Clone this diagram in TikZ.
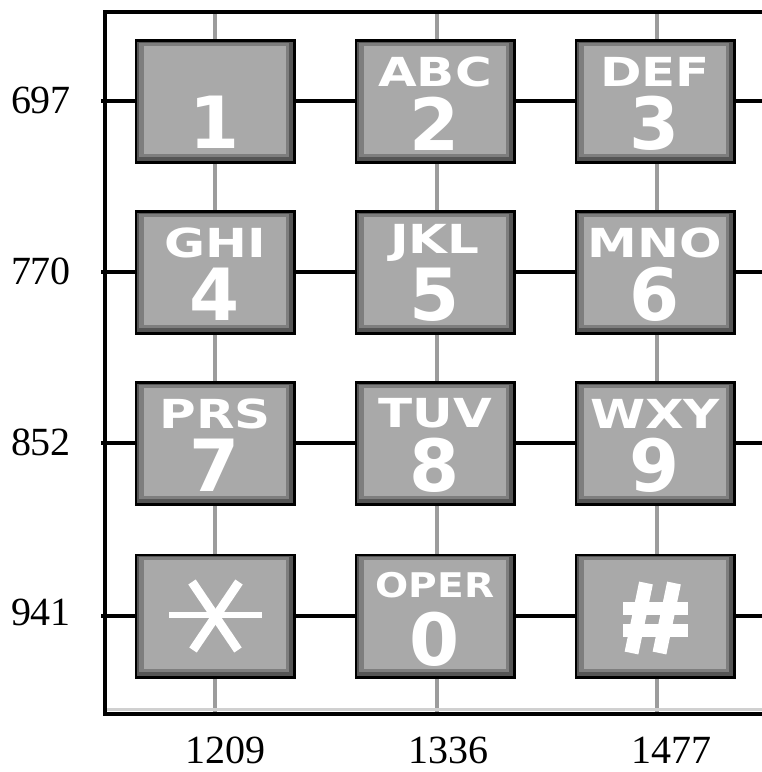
\documentclass[tikz,border=0pt]{standalone}
\usepackage{fontspec}
\setmainfont{Liberation Serif}
\newfontfamily\keyfont{DejaVu Sans}
\usetikzlibrary{calc}
\definecolor{keydark}{HTML}{555555}
\definecolor{keymid}{HTML}{7E7E7E}
\definecolor{keyface}{HTML}{A9A9A9}
\definecolor{colgray}{HTML}{9C9C9C}
\definecolor{shadowgray}{HTML}{D0D0D0}
\tikzset{
  keybox/.style={rectangle, fill=black, minimum width=161pt, minimum height=125pt, inner sep=0pt},
  keylet/.style={text=white, font=\keyfont\bfseries\fontsize{40}{40}\selectfont, inner sep=0pt},
  keysmall/.style={text=white, font=\keyfont\bfseries\fontsize{34}{34}\selectfont, inner sep=0pt},
  keydig/.style={text=white, font=\keyfont\bfseries\fontsize{72}{72}\selectfont, inner sep=0pt},
  freq/.style={font=\fontsize{40}{40}\selectfont, inner sep=0pt},
  rowline/.style={line width=3.5pt, black},
  colline/.style={line width=3.5pt, colgray},
  frameline/.style={line width=4pt, black, line join=miter},
  shadowline/.style={line width=3pt, shadowgray},
  glyphline/.style={white, line width=#1},
}
\newcommand\keybase[3]{%
  \node[keybox] (#1) at (#2,#3) {};
  \fill[keydark] ($(#1.south west)+(3pt,3pt)$) rectangle ($(#1.north east)+(-3pt,-3pt)$);
  \fill[keymid] ($(#1.south west)+(5pt,7pt)$) rectangle ($(#1.north east)+(-7pt,-4pt)$);
  \fill[keyface] ($(#1.south west)+(10pt,10pt)$) rectangle ($(#1.north east)+(-10pt,-7pt)$);
}
\newcommand\keyfull[5]{%
  \keybase{#1}{#2}{#3}
  \node[keylet] (#1-l) at ($(#1)+(0pt,30pt)$) {\scalebox{1.25}[1]{#4}};
  \node[keydig] (#1-d) at ($(#1)+(0pt,-22pt)$) {#5};
}
\begin{document}
\begin{tikzpicture}[x=1pt,y=-1pt]
\useasboundingbox (0,0) rectangle (762,772);
\fill[white] (0,0) rectangle (762,772);
% frame corners
\coordinate (tl) at (105,12);
\coordinate (tr) at (762,12);
\coordinate (bl) at (105,714);
\coordinate (br) at (762,714);
\coordinate (sl) at (107,709);
\coordinate (sr) at (762,709);
% column lines
\foreach \i/\x in {1/215,2/437,3/657}{
  \coordinate (c\i n) at (\x,14);
  \coordinate (c\i s) at (\x,712);
  \draw[colline] (c\i n) -- (c\i s);
}
% row lines
\foreach \j/\y in {1/101,2/272,3/443,4/616}{
  \coordinate (r\j w) at (101,\y);
  \coordinate (r\j e) at (762,\y);
  \draw[rowline] (r\j w) -- (r\j e);
}
% frame
\draw[shadowline] (sl) -- (sr);
\draw[frameline] (tr) -- (tl) -- (bl) -- (br);
% keys
\keybase{k1}{215}{101.5}
\node[keydig] (k1-d) at ($(k1)+(0pt,-21pt)$) {1};
\keyfull{k2}{435}{101.5}{ABC}{2}
\keyfull{k3}{655}{101.5}{DEF}{3}
\keyfull{k4}{215}{272.5}{GHI}{4}
\keyfull{k5}{435}{272.5}{JKL}{5}
\keyfull{k6}{655}{272.5}{MNO}{6}
\keyfull{k7}{215}{443.5}{PRS}{7}
\keyfull{k8}{435}{443.5}{TUV}{8}
\keyfull{k9}{655}{443.5}{WXY}{9}
\keybase{kstar}{215}{616}
\keybase{k0}{435}{616}
\node[keysmall] (k0-l) at ($(k0)+(0pt,31pt)$) {\scalebox{1.15}[1]{OPER}};
\node[keydig] (k0-d) at ($(k0)+(0pt,-23pt)$) {0};
\keybase{khash}{655}{616}
% star glyph
\begin{scope}[shift={(kstar.center)}]
  \draw[glyphline=6pt] (-46,-1) -- (47,-1);
  \draw[glyphline=9pt] (-23,-34) -- (23,34);
  \draw[glyphline=9pt] (24,-34) -- (-22,34);
\end{scope}
% hash glyph
\begin{scope}[shift={(khash.center)}]
  \draw[glyphline=13pt] (-32,-8) -- (33,-8);
  \draw[glyphline=13pt] (-32,14.5) -- (33,14.5);
  \draw[glyphline=14pt] (-9,-33) -- (-23.5,37);
  \draw[glyphline=14pt] (19,-33) -- (4.5,37);
\end{scope}
% frequency labels
\node[freq] (f697) at (41,100) {697};
\node[freq] (f770) at (41,271) {770};
\node[freq] (f852) at (41,442) {852};
\node[freq] (f941) at (41,612) {941};
\node[freq] (f1209) at (225,750) {1209};
\node[freq] (f1336) at (448,750) {1336};
\node[freq] (f1477) at (671,750) {1477};
\end{tikzpicture}
\end{document}
